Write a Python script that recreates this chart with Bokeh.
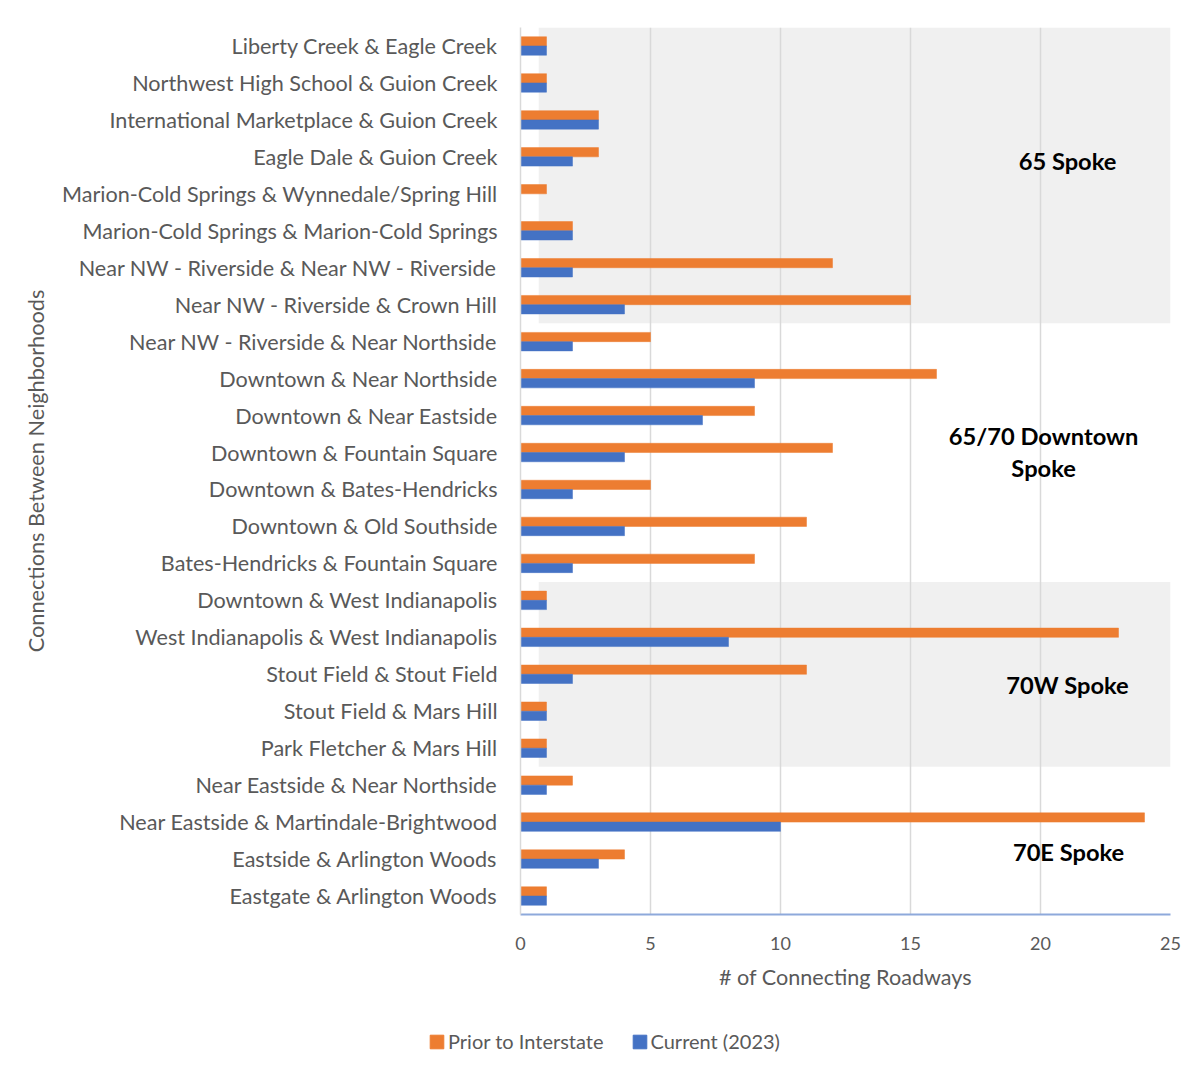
from bokeh.plotting import figure
from bokeh.models import FactorRange, Legend, LegendItem, Label, FixedTicker
from bokeh.layouts import column
from bokeh.transform import dodge
from bokeh.embed import file_html
from bokeh.resources import INLINE

categories = [
    "Liberty Creek & Eagle Creek",
    "Northwest High School & Guion Creek",
    "International Marketplace & Guion Creek",
    "Eagle Dale & Guion Creek",
    "Marion-Cold Springs & Wynnedale/Spring Hill",
    "Marion-Cold Springs & Marion-Cold Springs",
    "Near NW - Riverside & Near NW - Riverside",
    "Near NW - Riverside & Crown Hill",
    "Near NW - Riverside & Near Northside",
    "Downtown & Near Northside",
    "Downtown & Near Eastside",
    "Downtown & Fountain Square",
    "Downtown & Bates-Hendricks",
    "Downtown & Old Southside",
    "Bates-Hendricks & Fountain Square",
    "Downtown & West Indianapolis",
    "West Indianapolis & West Indianapolis",
    "Stout Field & Stout Field",
    "Stout Field & Mars Hill",
    "Park Fletcher & Mars Hill",
    "Near Eastside & Near Northside",
    "Near Eastside & Martindale-Brightwood",
    "Eastside & Arlington Woods",
    "Eastgate & Arlington Woods",
]
prior = [1, 1, 3, 3, 1, 2, 12, 15, 5, 16, 9, 12, 5, 11, 9, 1, 23, 11, 1, 1, 2, 24, 4, 1]
current = [1, 1, 3, 2, 0, 2, 2, 4, 2, 9, 7, 4, 2, 4, 2, 1, 8, 2, 1, 1, 1, 10, 3, 1]
x_ticks = [0, 5, 10, 15, 20, 25]

# spoke groups: first row, last row (0-based, counted from top), shaded?
spoke_names = ["65 Spoke", "65/70 Downtown\nSpoke", "70W Spoke", "70E Spoke"]
spoke_first = [0, 8, 15, 20]
spoke_last = [7, 14, 19, 23]
spoke_shaded = [True, False, True, False]

FONT = "Lato"
GREY = "#595959"
ORANGE = "#ED7D31"
BLUE = "#4472C4"

factors = list(reversed(categories))
n = len(categories)

p = figure(width=1190, height=1004, y_range=FactorRange(factors=factors, range_padding=0),
           x_range=(0, 25), output_backend="svg", toolbar_location=None,
           min_border_left=520, min_border_right=20, min_border_top=27, min_border_bottom=90)
p.outline_line_color = None
p.background_fill_color = "white"

# shaded spoke bands
for r0, r1, sh in zip(spoke_first, spoke_last, spoke_shaded):
    if sh:
        p.quad(left=[0.7], right=[25], bottom=[n - r1 - 1], top=[n - r0], fill_color="#f0f0f0",
               line_color=None, level="image")

src = dict(cat=categories, prior=prior, current=current)
r_prior = p.hbar(y=dodge("cat", 0.125, range=p.y_range), right="prior", left=0, height=0.25,
                 source=src, fill_color=ORANGE, line_color=ORANGE, line_width=0.5)
r_cur = p.hbar(y=dodge("cat", -0.125, range=p.y_range), right="current", left=0, height=0.25,
               source=src, fill_color=BLUE, line_color=BLUE, line_width=0.5)

# spoke label placement (x in data units, y in synthetic category units)
label_pos = [(21.04, [20.40]), (20.12, [12.96, 12.09]), (21.04, [6.20]), (21.08, [1.70])]
for name, (lx, lys) in zip(spoke_names, label_pos):
    for ln, ly in zip(name.split("\n"), lys):
        p.add_layout(Label(x=lx, y=ly, text=ln, text_font=FONT, text_font_size="23.7px",
                           text_font_style="bold", text_color="black", text_align="center",
                           text_baseline="middle"))

# axes
p.xaxis.ticker = FixedTicker(ticks=x_ticks)
p.xaxis.axis_label = "# of Connecting Roadways"
p.xaxis.axis_label_text_font = FONT
p.xaxis.axis_label_text_font_style = "normal"
p.xaxis.axis_label_text_font_size = "21.6px"
p.xaxis.axis_label_text_color = GREY
p.xaxis.axis_label_standoff = 11
p.xaxis.major_label_text_font = FONT
p.xaxis.major_label_text_font_size = "18px"
p.xaxis.major_label_text_color = GREY
p.xaxis.major_label_standoff = 16
p.xaxis.major_tick_line_color = None
p.xaxis.minor_tick_line_color = None
p.xaxis.axis_line_color = "#8EA9DB"
p.xaxis.axis_line_width = 2

p.yaxis.axis_label = "Connections Between Neighborhoods"
p.yaxis.axis_label_text_font = FONT
p.yaxis.axis_label_text_font_style = "normal"
p.yaxis.axis_label_text_font_size = "21.7px"
p.yaxis.axis_label_text_color = GREY
p.yaxis.axis_label_standoff = 10
p.yaxis.major_label_text_font = FONT
p.yaxis.major_label_text_font_size = "21.6px"
p.yaxis.major_label_text_color = GREY
p.yaxis.major_label_standoff = 17
p.yaxis.major_tick_line_color = None
p.yaxis.axis_line_color = "#d9d9d9"
p.yaxis.axis_line_width = 1.5

p.ygrid.grid_line_color = None
p.xgrid.grid_line_color = "#d9d9d9"
p.xgrid.grid_line_width = 1.5

# legend strip below the chart (its own plot; the series renderers here fall outside its range)
p2 = figure(width=1190, height=66, output_backend="svg", toolbar_location=None,
            x_axis_type=None, y_axis_type=None, min_border=0,
            x_range=(0, 1), y_range=FactorRange(factors=["legend"]))
if "frame_align" in p2.properties():
    p2.frame_align = False
p2.outline_line_color = None
p2.xgrid.grid_line_color = None
p2.ygrid.grid_line_color = None
l_prior = p2.hbar(y="cat", right="prior", height=0.5, source=src, fill_color=ORANGE, line_color=ORANGE)
l_cur = p2.hbar(y="cat", right="current", height=0.5, source=src, fill_color=BLUE, line_color=BLUE)
legend = Legend(items=[LegendItem(label="Prior to Interstate", renderers=[l_prior]),
                       LegendItem(label="Current (2023)", renderers=[l_cur])],
                orientation="horizontal", location=(428, 17),
                label_text_font=FONT, label_text_font_size="20px", label_text_color=GREY,
                glyph_width=17, glyph_height=17, spacing=27, label_standoff=3,
                border_line_color=None, background_fill_alpha=0, padding=0, margin=0)
p2.add_layout(legend, "center")

open("out.html", "w").write(file_html(column(p, p2, spacing=0), INLINE))
